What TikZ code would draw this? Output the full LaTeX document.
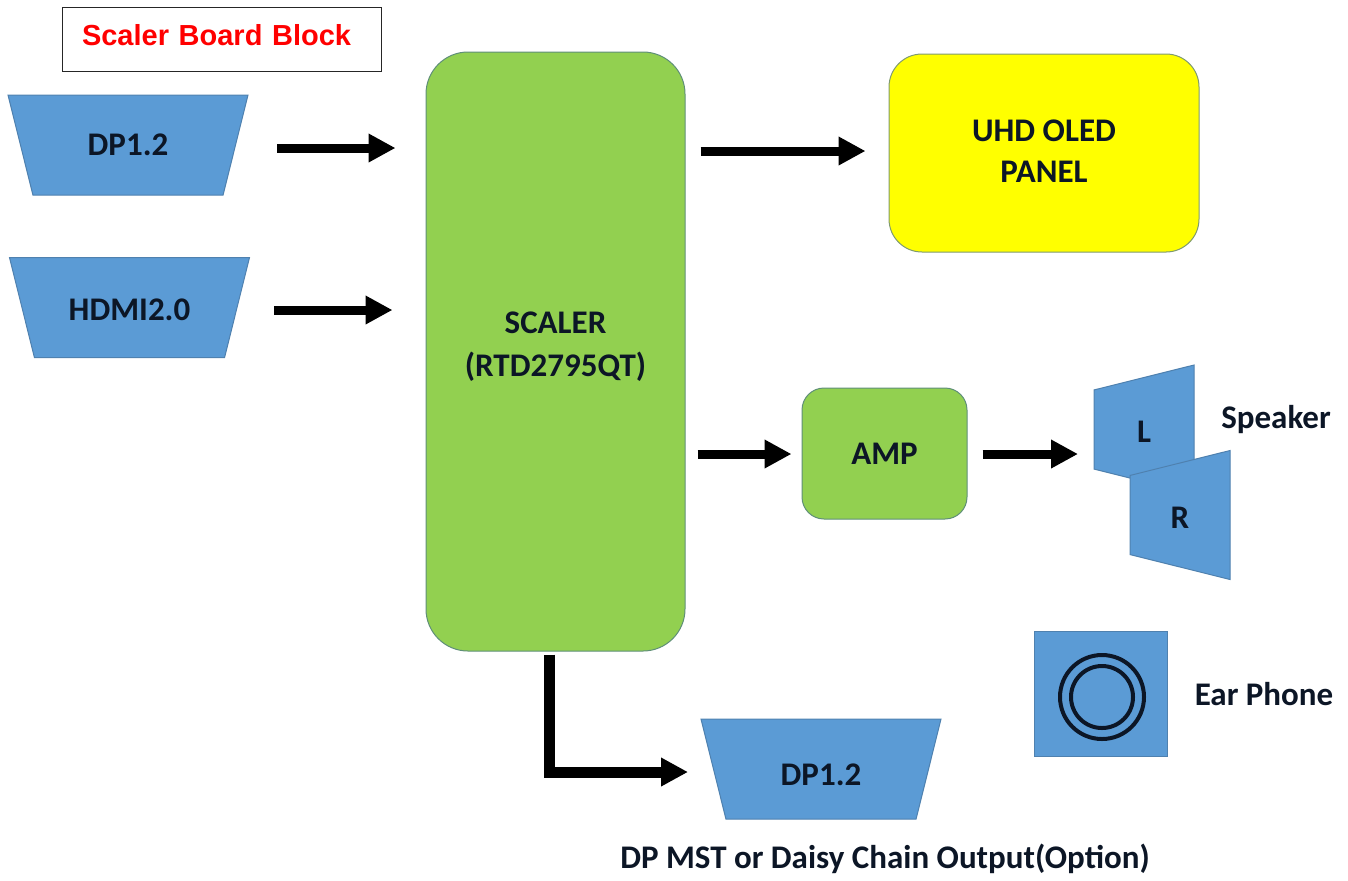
\documentclass[tikz,border=0pt]{standalone}
\usepackage{fontspec}
\setmainfont{Carlito}
\newfontfamily\titlefont{Liberation Sans}
\usetikzlibrary{arrows.meta,shapes.geometric}
\definecolor{portblue}{HTML}{5B9BD5}
\definecolor{portedge}{HTML}{4F81AF}
\definecolor{chipgreen}{HTML}{92D050}
\definecolor{chipedge}{HTML}{5F8F78}
\definecolor{panelyellow}{HTML}{FFFF00}
\definecolor{paneledge}{HTML}{7F9A70}
\definecolor{inkdark}{HTML}{0C1626}
\tikzset{
  label/.style={font=\bfseries\fontsize{16.5}{20.5}\selectfont, text=inkdark},
  port/.style={label, shape=trapezium, trapezium stretches body=true, shape border rotate=180,
    trapezium left angle=76, trapezium right angle=76, minimum width=120pt,
    text height=30pt, text depth=20pt,
    inner sep=0pt, fill=portblue, draw=portedge, line width=0.5pt},
  speakerbox/.style={label, shape=trapezium, trapezium stretches body=true, shape border rotate=90,
    trapezium left angle=76, trapezium right angle=76, minimum width=64.5pt,
    text width=50pt, align=center, text height=13pt,
    inner sep=0pt, fill=portblue, draw=portedge, line width=0.5pt},
  chip/.style={label, draw=chipedge, fill=chipgreen, line width=0.5pt, align=center, inner sep=0pt},
  ring/.style={circle, draw=inkdark, line width=2pt, inner sep=0pt},
  bigarrow/.style={line width=4.5pt, -{Triangle[length=13.5pt,width=13.5pt]}},
}
\begin{document}
\begin{tikzpicture}[x=0.5pt,y=-0.5pt]
  \useasboundingbox (0,0) rectangle (1348,880);

  % Title box
  \node[draw=black!85, line width=0.5pt, text=red, font=\titlefont\bfseries\fontsize{14.5}{16}\selectfont,
    minimum width=159.5pt, inner xsep=10pt, inner ysep=0pt, text width=139.5pt, align=left,
    text height=19pt, text depth=13pt] (title) at (221.5,39) {Scaler Board Block};

  % Input ports
  \node[port] (dpin) at (128,145) {DP1.2};
  \node[port, text height=31.25pt, text depth=18.75pt] (hdmiin) at (129.5,307.5) {HDMI2.0};

  % Main blocks
  \node[chip, rounded corners=21pt, minimum width=129.5pt, minimum height=299.5pt, text depth=7pt,
    font=\bfseries\fontsize{16.5}{21.5}\selectfont] (scaler) at (555.5,351.5)
    {SCALER\\(RTD2795QT)};
  \node[chip, draw=paneledge, fill=panelyellow, rounded corners=16.5pt, minimum width=155pt, minimum height=99pt, text depth=2pt] (panel) at (1044,153)
    {UHD OLED\\PANEL};
  \node[chip, rounded corners=11pt, minimum width=82.5pt, minimum height=65.5pt] (amp) at (884.5,453.5) {AMP};

  % Speakers, R lies over L
  \node[speakerbox] (left) at (1144,429.5) {L};
  \node[speakerbox] (right) at (1180,515) {R};
  \node[label] (speaker) at (1276,420) {Speaker};

  % Ear phone jack
  \node[draw=portedge, fill=portblue, line width=0.5pt, minimum width=66.5pt, minimum height=62.5pt, inner sep=0pt] (jack) at (1100.5,693.5) {};
  \node[ring, minimum size=42pt] (outerring) at (1102,697) {};
  \node[ring, minimum size=31pt] (innerring) at (1102,697) {};
  \node[label] (earphone) at (1264,694) {Ear Phone};

  % Output port
  \node[port, text height=33pt, text depth=17pt] (dpout) at (821,769) {DP1.2};
  \node[label] (dpnote) at (885,859) {DP MST or Daisy Chain Output(Option)};

  % Arrows
  \draw[bigarrow] ([shift={(149,3)}]dpin.center) -- ([shift={(-30,-203.5)}]scaler.west);
  \draw[bigarrow] ([shift={(144.5,2.5)}]hdmiin.center) -- ([shift={(-33,-41.5)}]scaler.west);
  \draw[bigarrow] ([shift={(15,-200.5)}]scaler.east) -- ([shift={(-23,-2)}]panel.west);
  \draw[bigarrow] ([shift={(12,102.5)}]scaler.east) -- ([shift={(-10,0.5)}]amp.west);
  \draw[bigarrow] ([shift={(15,0.5)}]amp.east) -- ([shift={(-66,24.5)}]left.center);
  \draw[line width=5.5pt, -{Triangle[length=13.5pt,width=13.5pt]}] ([shift={(-6.5,3)}]scaler.south) |- ([shift={(-133,3)}]dpout.center);
\end{tikzpicture}
\end{document}
